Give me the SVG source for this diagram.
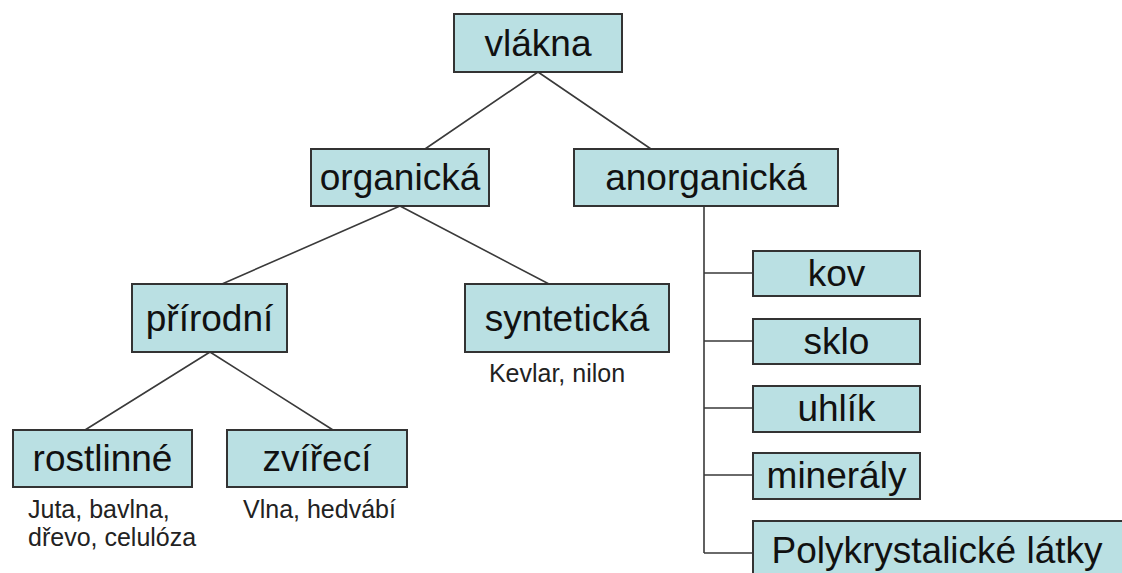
<svg xmlns="http://www.w3.org/2000/svg" width="1122" height="573" viewBox="0 0 1122 573">
<style>
.box{fill:#BAE0E3;stroke:#333333;stroke-width:2}
.lbl{font-family:"Liberation Sans",Arial,sans-serif;font-size:37px;fill:#111111;text-anchor:middle}
.note{font-family:"Liberation Sans",Arial,sans-serif;font-size:25px;fill:#222222}
.con{stroke:#3a3a3a;stroke-width:1.6;fill:none}
</style>
<rect width="1122" height="573" fill="#ffffff"/>
<g id="connectors">
<path class="con" d="M538,72 L425,149 M538,72 L651,149"/>
<path class="con" d="M400,206 L222,284 M400,206 L549,284"/>
<path class="con" d="M210,352 L85,430 M210,352 L333,430"/>
<path class="con" d="M704,206 V553 M704,273 H753 M704,341 H753 M704,408 H753 M704,475 H753 M704,553 H753"/>
</g>
<g id="vlakna"><rect class="box" x="454" y="14" width="168" height="58"/><text class="lbl" x="538" y="56">vlákna</text></g>
<g id="organicka"><rect class="box" x="311" y="149" width="178" height="57"/><text class="lbl" x="400" y="190">organická</text></g>
<g id="anorganicka"><rect class="box" x="574" y="149" width="264" height="57"/><text class="lbl" x="706" y="190">anorganická</text></g>
<g id="prirodni"><rect class="box" x="132" y="284" width="155" height="68"/><text class="lbl" x="209.5" y="331">přírodní</text></g>
<g id="synteticka"><rect class="box" x="465" y="284" width="204" height="68"/><text class="lbl" x="567" y="331">syntetická</text><text class="note" x="557" y="382" text-anchor="middle">Kevlar, nilon</text></g>
<g id="rostlinne"><rect class="box" x="13" y="430" width="179" height="57"/><text class="lbl" x="102.5" y="471">rostlinné</text><text class="note" x="28" y="518">Juta, bavlna,</text><text class="note" x="28" y="546">dřevo, celulóza</text></g>
<g id="zvireci"><rect class="box" x="227" y="430" width="180" height="57"/><text class="lbl" x="317" y="471">zvířecí</text><text class="note" x="243" y="518">Vlna, hedvábí</text></g>
<g id="kov"><rect class="box" x="753" y="251" width="167" height="45"/><text class="lbl" x="836.5" y="286">kov</text></g>
<g id="sklo"><rect class="box" x="753" y="319" width="167" height="45"/><text class="lbl" x="836.5" y="354">sklo</text></g>
<g id="uhlik"><rect class="box" x="753" y="386" width="167" height="46"/><text class="lbl" x="836.5" y="421">uhlík</text></g>
<g id="mineraly"><rect class="box" x="753" y="453" width="167" height="46"/><text class="lbl" x="836.5" y="488">minerály</text></g>
<g id="polykrystalicke"><rect class="box" x="753" y="521" width="372" height="60"/><text class="lbl" x="937" y="563">Polykrystalické látky</text></g>
</svg>
